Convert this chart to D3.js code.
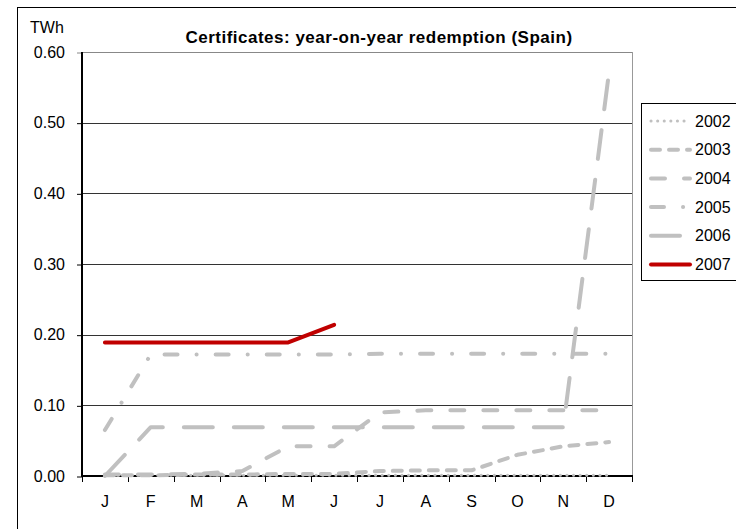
<!DOCTYPE html>
<html>
<head>
<meta charset="utf-8">
<script src="https://cdn.jsdelivr.net/npm/d3@7/dist/d3.min.js"></script>
<style>
  html, body { margin: 0; padding: 0; background: #fff; }
  svg { display: block; font-family: "Liberation Sans", Arial, sans-serif; }
</style>
</head>
<body>
<svg id="chart" width="736" height="529"></svg>
<script>
// ---- data ----
const months = ["J","F","M","A","M","J","J","A","S","O","N","D"];
const seriesNames = ["2002","2003","2004","2005","2006","2007"];
const s2002 = [0.001,0.001,0.001,0.001,0.001,0.001,0.001,0.001,0.001,0.001,0.001,0.001];
const s2003 = [0.001,0.001,0.002,0.002,0.003,0.003,0.007,0.008,0.008,0.030,0.042,0.048];
const s2004 = [0.002,0.002,0.003,0.007,0.042,0.042,0.090,0.093,0.093,0.093,0.093,0.093];
const s2005 = [0.065,0.172,0.172,0.172,0.172,0.172,0.173,0.173,0.173,0.173,0.173,0.173];
const s2006 = [0.000,0.069,0.069,0.069,0.069,0.069,0.069,0.069,0.069,0.069,0.069,0.572];
const s2007 = [0.189,0.189,0.189,0.189,0.189,0.214];
const yTicks = [0,0.1,0.2,0.3,0.4,0.5,0.6];

// ---- styles ----
const styles = [
  {color:"#c0c0c0", width:3, dash:"0.1,6.5"},
  {color:"#c0c0c0", width:4, dash:"9,9"},
  {color:"#c0c0c0", width:4, dash:"14,19"},
  {color:"#c0c0c0", width:4, dash:"13,19,0.1,19"},
  {color:"#c0c0c0", width:4, dash:"29,21"},
  {color:"#c00000", width:4, dash:null}
];
const allSeries = [s2002,s2003,s2004,s2005,s2006,s2007];

const svg = d3.select("#chart");
const L = 82, R = 632, T = 52, B = 476;

const x = d3.scaleBand().domain(d3.range(months.length)).range([L, R]).paddingInner(0).paddingOuter(0);
const y = d3.scaleLinear().domain([0, 0.6]).range([B, T]);

// outer chart border
svg.append("rect").attr("x",17.5).attr("y",7.5).attr("width",800).attr("height",600)
  .attr("fill","none").attr("stroke","#000").attr("stroke-width",1);

// gridlines
svg.append("g").selectAll("line").data(yTicks.filter(v => v > 0 && v < 0.6)).join("line")
  .attr("x1",L).attr("x2",R)
  .attr("y1",d => Math.round(y(d))+0.5).attr("y2",d => Math.round(y(d))+0.5)
  .attr("stroke","#333").attr("stroke-width",1);
// top and right frame
svg.append("line").attr("x1",L).attr("x2",R+0.5).attr("y1",T+0.5).attr("y2",T+0.5)
  .attr("stroke","#888").attr("stroke-width",1);
svg.append("line").attr("x1",R+0.5).attr("x2",R+0.5).attr("y1",T).attr("y2",B)
  .attr("stroke","#999").attr("stroke-width",1);

// y axis
const yAxis = d3.axisLeft(y).tickValues(yTicks).tickFormat(d3.format(".2f"))
  .tickSizeInner(5).tickSizeOuter(0).tickPadding(12);
const gy = svg.append("g").attr("transform",`translate(${L},0)`).call(yAxis);
gy.select(".domain").remove();
gy.selectAll(".tick line").attr("stroke",d => d === 0.6 ? "#888" : "#000").attr("stroke-width",1)
  .attr("transform","translate(0,0.5)");
gy.selectAll(".tick text").attr("font-size",16).attr("fill","#000")
  .attr("font-family","'Liberation Sans', Arial, sans-serif");
svg.append("line").attr("x1",L).attr("x2",L).attr("y1",T).attr("y2",B+1)
  .attr("stroke","#000").attr("stroke-width",2);

// x axis
const xAxis = d3.axisBottom(x).tickFormat(i => months[i]).tickSizeInner(0).tickSizeOuter(0).tickPadding(20);
const gx = svg.append("g").attr("transform",`translate(0,${B})`).call(xAxis);
gx.select(".domain").remove();
gx.selectAll(".tick text").attr("font-size",16).attr("fill","#000")
  .attr("font-family","'Liberation Sans', Arial, sans-serif");
const bounds = d3.range(months.length + 1).map(i => L + i * x.step());
svg.append("g").selectAll("line").data(bounds).join("line")
  .attr("x1",d => Math.round(d)+0.5).attr("x2",d => Math.round(d)+0.5)
  .attr("y1",B).attr("y2",B+6).attr("stroke","#000").attr("stroke-width",1);
svg.append("line").attr("x1",L-1).attr("x2",R+1).attr("y1",B).attr("y2",B)
  .attr("stroke","#000").attr("stroke-width",2);

// lines
const line = d3.line().x((d,i) => x(i) + x.bandwidth()/2).y(d => y(d));
allSeries.forEach((s, k) => {
  const st = styles[k];
  svg.append("path").datum(s).attr("d", line)
    .attr("fill","none").attr("stroke",st.color).attr("stroke-width",st.width)
    .attr("stroke-linecap","round").attr("stroke-linejoin","round")
    .attr("stroke-dasharray",st.dash);
});

// title
svg.append("text").attr("x",379).attr("y",43).attr("text-anchor","middle")
  .attr("font-size",17).attr("font-weight","bold").attr("letter-spacing",0.5).attr("fill","#000")
  .text("Certificates: year-on-year redemption (Spain)");
// unit
svg.append("text").attr("x",30).attr("y",33).attr("font-size",16).attr("fill","#000").text("TWh");

// legend
const lg = svg.append("g");
lg.append("rect").attr("x",641.5).attr("y",103.5).attr("width",120).attr("height",177)
  .attr("fill","#fff").attr("stroke","#000").attr("stroke-width",1);
seriesNames.forEach((name, k) => {
  const cy = 121 + k * 28.7;
  const st = styles[k];
  lg.append("line").attr("x1",651).attr("x2",690).attr("y1",cy).attr("y2",cy)
    .attr("stroke",st.color).attr("stroke-width",st.width)
    .attr("stroke-linecap","round").attr("stroke-dasharray",st.dash);
  lg.append("text").attr("x",695).attr("y",cy).attr("dy","0.35em")
    .attr("font-size",16).attr("fill","#000").text(name);
});
</script>
</body>
</html>
